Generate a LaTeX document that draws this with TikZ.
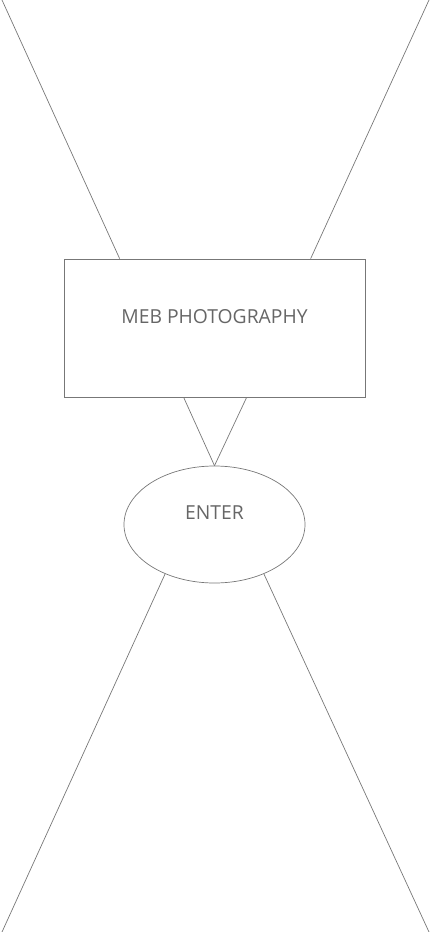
\documentclass[tikz,border=0pt]{standalone}
\usepackage{fontspec}
\setmainfont{Open Sans}
\usetikzlibrary{shapes.geometric,calc}
\definecolor{edgegray}{HTML}{777777}
\definecolor{textgray}{HTML}{666666}
\tikzset{
  outline/.style={draw=edgegray,line width=0.7pt},
  label text/.style={text=textgray,font=\fontsize{19.3}{23}\selectfont}
}
\begin{document}
\begin{tikzpicture}[x=1pt,y=-1pt]
\useasboundingbox (0,0) rectangle (430,932);
% box and ellipse
\node[outline,rectangle,minimum width=301pt,minimum height=138pt,inner sep=0pt] (meb) at (214.5,328) {};
\node[label text] (mebtext) at ($(meb.center)+(0,-11)$) {MEB PHOTOGRAPHY};
\node[outline,ellipse,minimum width=181pt,minimum height=117pt,inner sep=0pt] (enter) at (214.5,524.5) {};
\node[label text] (entertext) at ($(enter.center)+(0,-12)$) {ENTER};
% free ends
\coordinate (tl) at (2,0);
\coordinate (tr) at (429,0);
\coordinate (bl) at (2,932);
\coordinate (br) at (429,932);
% connectors
\draw[outline] (tl) -- ($(meb.north west)+(56,0)$);
\draw[outline] (tr) -- ($(meb.north west)+(247,0)$);
\draw[outline] ($(meb.south west)+(120,0)$) -- (enter.north);
\draw[outline] ($(meb.south west)+(183,0)$) -- (enter.north);
\draw[outline] (enter.-135) -- (bl);
\draw[outline] (enter.-45) -- (br);
\end{tikzpicture}
\end{document}
